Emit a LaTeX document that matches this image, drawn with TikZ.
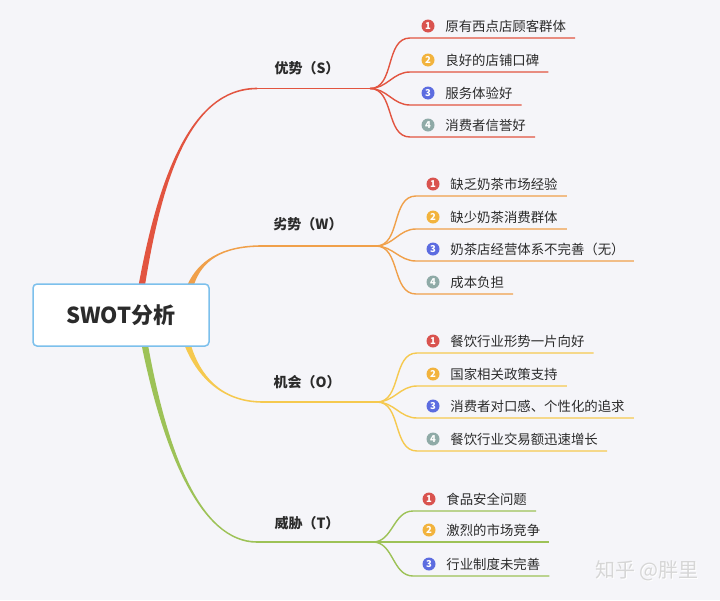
\documentclass[tikz,border=0pt]{standalone}
\usepackage{fontspec}
\setmainfont{Noto Sans CJK SC}
\usepackage{tikz}
\usetikzlibrary{positioning, calc}

\definecolor{bred}{HTML}{E25440}
\definecolor{borange}{HTML}{F0A04A}
\definecolor{byellow}{HTML}{F5C94F}
\definecolor{bgreen}{HTML}{9DC257}
\definecolor{nred}{HTML}{D9534F}
\definecolor{nyellow}{HTML}{F2B33D}
\definecolor{nblue}{HTML}{5C6CE0}
\definecolor{ngrey}{HTML}{8FAAA7}
\definecolor{rootline}{HTML}{7CC0EC}
\definecolor{paper}{HTML}{F5F5F9}
\definecolor{ink}{HTML}{2B2B2B}

% tapered trunk: colour, start, end, ctrl offset at start, ctrl offset at end, end half width
\newcommand{\taper}[6]{%
  \fill[#1] ($(#2)+(-3.2,0)$) .. controls ($(#2)+#4+(-2,0)$) and ($(#3)+#5+(0,-#6)$)
    .. ($(#3)+(0,-#6)$) -- ($(#3)+(0,#6)$) .. controls ($(#3)+#5+(0,#6)$)
    and ($(#2)+#4+(2,0)$) .. ($(#2)+(3.2,0)$) -- cycle;}

\begin{document}
\begin{tikzpicture}[
  x=1pt, y=-1pt,
  font=\fontsize{13.4}{16}\selectfont, text=ink,
  root/.style={draw=rootline, line width=1.5pt, fill=white, rounded corners=4pt,
    minimum width=176pt, minimum height=62pt,
    font=\fontsize{22}{26}\selectfont\bfseries},
  head/.style={font=\fontsize{14}{17}\selectfont\bfseries},
  item/.style={inner sep=0pt, anchor=west},
  dot/.style={circle, fill=#1, inner sep=0pt, minimum size=13pt, text=white,
    font=\fontsize{9.5}{9.5}\selectfont\bfseries},
  sline/.style={draw=bred, line width=1.4pt},
  wline/.style={draw=borange, line width=1.4pt},
  oline/.style={draw=byellow, line width=1.4pt},
  tline/.style={draw=bgreen, line width=1.4pt},
]
  \fill[paper] (0,0) rectangle (720,600);
  \useasboundingbox (0,0) rectangle (720,600);

  % trunks
  \coordinate (sT) at (142,284); \coordinate (sA) at (257,88.5); \coordinate (sB) at (370,88.5);
  \coordinate (wT) at (191,284); \coordinate (wA) at (262,246); \coordinate (wB) at (376,246);
  \coordinate (oT) at (188,346); \coordinate (oA) at (263,402); \coordinate (oB) at (377,402);
  \coordinate (tT) at (145,346); \coordinate (tA) at (257,542); \coordinate (tB) at (373,542);

  \taper{bred}{sT}{sA}{(18,-104)}{(-67,0)}{0.8}
  \taper{borange}{wT}{wA}{(9,-22)}{(-42,0)}{0.8}
  \taper{byellow}{oT}{oA}{(10,28)}{(-43,0)}{-0.8}
  \taper{bgreen}{tT}{tA}{(20,104)}{(-57,0)}{-0.8}

  \node[root] (root) at (121,315) {SWOT分析};

  % 优势
  \node[head] (s) at (307,68) {优势（S）};
  \draw[sline] (sA) -- (sB);
  \coordinate (s1a) at (410,38); \coordinate (s2a) at (410,72);
  \coordinate (s3a) at (410,105); \coordinate (s4a) at (410,137);
  \node[dot=nred] (s1n) at ($(s1a)+(18,-12)$) {1};
  \node[item, right=10.5pt of s1n] (s1) {原有西点店顾客群体};
  \node[dot=nyellow] (s2n) at ($(s2a)+(18,-12)$) {2};
  \node[item, right=10.5pt of s2n] (s2) {良好的店铺口碑};
  \node[dot=nblue] (s3n) at ($(s3a)+(18,-12)$) {3};
  \node[item, right=10.5pt of s3n] (s3) {服务体验好};
  \node[dot=ngrey] (s4n) at ($(s4a)+(18,-12)$) {4};
  \node[item, right=10.5pt of s4n] (s4) {消费者信誉好};
  \draw[sline] (sB) to[out=0, in=180] (s1a) -- ($(s1.east |- s1a)+(9,0)$);
  \draw[sline] (sB) to[out=0, in=180] (s2a) -- ($(s2.east |- s2a)+(9,0)$);
  \draw[sline] (sB) to[out=0, in=180] (s3a) -- ($(s3.east |- s3a)+(9,0)$);
  \draw[sline] (sB) to[out=0, in=180] (s4a) -- ($(s4.east |- s4a)+(9,0)$);

  % 劣势
  \node[head] (w) at (308,224) {劣势（W）};
  \draw[wline] (wA) -- (wB);
  \coordinate (w1a) at (416,196); \coordinate (w2a) at (416,229);
  \coordinate (w3a) at (416,261); \coordinate (w4a) at (416,294);
  \node[dot=nred] (w1n) at ($(w1a)+(17,-12)$) {1};
  \node[item, right=10.5pt of w1n] (w1) {缺乏奶茶市场经验};
  \node[dot=nyellow] (w2n) at ($(w2a)+(17,-12)$) {2};
  \node[item, right=10.5pt of w2n] (w2) {缺少奶茶消费群体};
  \node[dot=nblue] (w3n) at ($(w3a)+(17,-12)$) {3};
  \node[item, right=10.5pt of w3n] (w3) {奶茶店经营体系不完善（无）};
  \node[dot=ngrey] (w4n) at ($(w4a)+(17,-12)$) {4};
  \node[item, right=10.5pt of w4n] (w4) {成本负担};
  \draw[wline] (wB) to[out=0, in=180] (w1a) -- ($(w1.east |- w1a)+(9,0)$);
  \draw[wline] (wB) to[out=0, in=180] (w2a) -- ($(w2.east |- w2a)+(9,0)$);
  \draw[wline] (wB) to[out=0, in=180] (w3a) -- ($(w3.east |- w3a)+(9,0)$);
  \draw[wline] (wB) to[out=0, in=180] (w4a) -- ($(w4.east |- w4a)+(9,0)$);

  % 机会
  \node[head] (o) at (307,382) {机会（O）};
  \draw[oline] (oA) -- (oB);
  \coordinate (o1a) at (417,353); \coordinate (o2a) at (417,386);
  \coordinate (o3a) at (417,418); \coordinate (o4a) at (417,451);
  \node[dot=nred] (o1n) at ($(o1a)+(16,-12)$) {1};
  \node[item, right=10.5pt of o1n] (o1) {餐饮行业形势一片向好};
  \node[dot=nyellow] (o2n) at ($(o2a)+(16,-12)$) {2};
  \node[item, right=10.5pt of o2n] (o2) {国家相关政策支持};
  \node[dot=nblue] (o3n) at ($(o3a)+(16,-12)$) {3};
  \node[item, right=10.5pt of o3n] (o3) {消费者对口感、个性化的追求};
  \node[dot=ngrey] (o4n) at ($(o4a)+(16,-12)$) {4};
  \node[item, right=10.5pt of o4n] (o4) {餐饮行业交易额迅速增长};
  \draw[oline] (oB) to[out=0, in=180] (o1a) -- ($(o1.east |- o1a)+(9,0)$);
  \draw[oline] (oB) to[out=0, in=180] (o2a) -- ($(o2.east |- o2a)+(9,0)$);
  \draw[oline] (oB) to[out=0, in=180] (o3a) -- ($(o3.east |- o3a)+(9,0)$);
  \draw[oline] (oB) to[out=0, in=180] (o4a) -- ($(o4.east |- o4a)+(9,0)$);

  % 威胁
  \node[head] (t) at (307,523) {威胁（T）};
  \draw[tline] (tA) -- (tB);
  \coordinate (t1a) at (413,511); \coordinate (t2a) at (413,542);
  \coordinate (t3a) at (413,576);
  \node[dot=nred] (t1n) at ($(t1a)+(16,-12)$) {1};
  \node[item, right=10.5pt of t1n] (t1) {食品安全问题};
  \node[dot=nyellow] (t2n) at ($(t2a)+(16,-12)$) {2};
  \node[item, right=10.5pt of t2n] (t2) {激烈的市场竞争};
  \node[dot=nblue] (t3n) at ($(t3a)+(16,-12)$) {3};
  \node[item, right=10.5pt of t3n] (t3) {行业制度未完善};
  \draw[tline] (tB) to[out=0, in=180] (t1a) -- ($(t1.east |- t1a)+(9,0)$);
  \draw[tline] (tB) -- (t2a) -- ($(t2.east |- t2a)+(9,0)$);
  \draw[tline] (tB) to[out=0, in=180] (t3a) -- ($(t3.east |- t3a)+(9,0)$);

  \node[text=white, font=\fontsize{20}{24}\selectfont] at ($(647,571)+(0.8,0.8)$) {知乎 @胖里};
  \node[text=black!16, font=\fontsize{20}{24}\selectfont] (mark) at (647,571) {知乎 @胖里};
\end{tikzpicture}
\end{document}
